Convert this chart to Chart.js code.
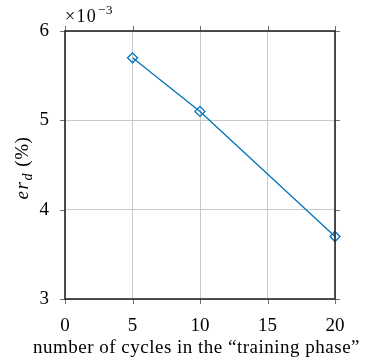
<!DOCTYPE html>
<html>
<head>
<meta charset="utf-8">
<script src="https://cdn.jsdelivr.net/npm/chart.js@4/dist/chart.umd.min.js"></script>
<style>
  html, body { margin: 0; padding: 0; background: #fff; }
  #wrap { width: 366px; height: 360px; }
</style>
</head>
<body>
<div id="wrap"><canvas id="chart"></canvas></div>
<script>
// data
var cycles = [5, 10, 20];
var errValues = [0.0057, 0.0051, 0.0037];
var xTicks = [0, 5, 10, 15, 20];
var yTicks = [0.003, 0.004, 0.005, 0.006];
var xTitle = "number of cycles in the \u201ctraining phase\u201d";

var FONT = "'Liberation Serif', 'DejaVu Serif', serif";
var lineColor = "#0072BD";
var gridColor = "#c8c8c8";
var frameColor = "#262626";

// text stretched with letter spacing to a given width (CM is wider than Times)
function spacedText(ctx, text, x, y, width) {
  ctx.letterSpacing = "0px";
  var w = ctx.measureText(text).width;
  var sp = (width - w) / text.length;
  ctx.letterSpacing = sp + "px";
  ctx.fillText(text, x, y);
  ctx.letterSpacing = "0px";
  return w + sp * text.length;
}

// frame, mirrored ticks, axis labels
var framePlugin = {
  id: "frame",
  afterDraw: function (chart) {
    var ctx = chart.ctx;
    var a = chart.chartArea;
    var xs = chart.scales.x, ys = chart.scales.y;
    ctx.save();
    ctx.beginPath();
    xTicks.forEach(function (v) {
      var px = Math.round(xs.getPixelForValue(v)) + 0.5;
      ctx.moveTo(px, a.top); ctx.lineTo(px, a.top - 5);
      ctx.moveTo(px, a.bottom); ctx.lineTo(px, a.bottom + 5);
    });
    yTicks.forEach(function (v) {
      var py = Math.round(ys.getPixelForValue(v)) + 0.5;
      ctx.moveTo(a.right, py); ctx.lineTo(a.right + 5, py);
      ctx.moveTo(a.left, py); ctx.lineTo(a.left - 5, py);
    });
    ctx.strokeStyle = "#707070";
    ctx.lineWidth = 1;
    ctx.stroke();
    ctx.strokeStyle = frameColor;
    ctx.lineWidth = 1.6;
    ctx.strokeRect(a.left, a.top, a.right - a.left, a.bottom - a.top);

    ctx.fillStyle = "#000";
    ctx.textBaseline = "alphabetic";
    ctx.textAlign = "left";

    // ×10^-3 multiplier
    ctx.font = "18px " + FONT;
    var w = spacedText(ctx, "\u00d710", a.left, 22, 32);
    ctx.font = "13px " + FONT;
    spacedText(ctx, "\u22123", a.left + w + 1, 14, 15);

    // x title
    ctx.font = "19px " + FONT;
    spacedText(ctx, xTitle, 33, 353, 327);

    // y label: er_d (%)
    ctx.translate(28, 168);
    ctx.rotate(-Math.PI / 2);
    var p1 = "er", p2 = "d", p3 = " (%)";
    ctx.font = "italic 19px " + FONT;
    var w1 = ctx.measureText(p1).width + 2;
    ctx.font = "italic 14px " + FONT;
    var w2 = ctx.measureText(p2).width + 1;
    ctx.font = "19px " + FONT;
    var w3 = ctx.measureText(p3).width;
    var k = 63 / (w1 + w2 + w3);
    var x0 = -31.5;
    ctx.font = "italic 19px " + FONT;
    spacedText(ctx, p1, x0, 0, w1 * k);
    ctx.font = "italic 14px " + FONT;
    ctx.fillText(p2, x0 + w1 * k, 4);
    ctx.font = "19px " + FONT;
    spacedText(ctx, p3, x0 + (w1 + w2) * k, 0, w3 * k);
    ctx.restore();
  }
};

var ctx = document.getElementById("chart").getContext("2d");
new Chart(ctx, {
  type: "scatter",
  data: {
    datasets: [{
      data: cycles.map(function (c, i) { return { x: c, y: errValues[i] }; }),
      showLine: true,
      clip: false,
      borderColor: lineColor,
      backgroundColor: "rgba(255,255,255,0)",
      borderWidth: 1.3,
      pointStyle: "rectRot",
      pointRadius: 5,
      pointBorderWidth: 1.3,
      pointBorderColor: lineColor,
      pointBackgroundColor: "rgba(255,255,255,0)"
    }]
  },
  options: {
    responsive: true,
    maintainAspectRatio: false,
    animation: false,
    layout: { padding: { left: 0, top: 31, right: 31, bottom: 0 } },
    plugins: { legend: { display: false }, tooltip: { enabled: false } },
    scales: {
      x: {
        type: "linear",
        min: 0, max: 20,
        afterBuildTicks: function (s) { s.ticks = xTicks.map(function (v) { return { value: v }; }); },
        afterFit: function (s) { s.height = 61; },
        grid: { color: gridColor, drawTicks: false },
        border: { display: false },
        ticks: { color: "#000", font: { family: FONT, size: 19 }, padding: 16 }
      },
      y: {
        type: "linear",
        min: 0.003, max: 0.006,
        afterBuildTicks: function (s) { s.ticks = yTicks.map(function (v) { return { value: v }; }); },
        afterFit: function (s) { s.width = 65; },
        grid: { color: gridColor, drawTicks: false },
        border: { display: false },
        ticks: {
          color: "#000",
          font: { family: FONT, size: 19 },
          padding: 16,
          callback: function (v) { return Math.round(v * 1000); }
        }
      }
    }
  },
  plugins: [framePlugin]
});
</script>
</body>
</html>
